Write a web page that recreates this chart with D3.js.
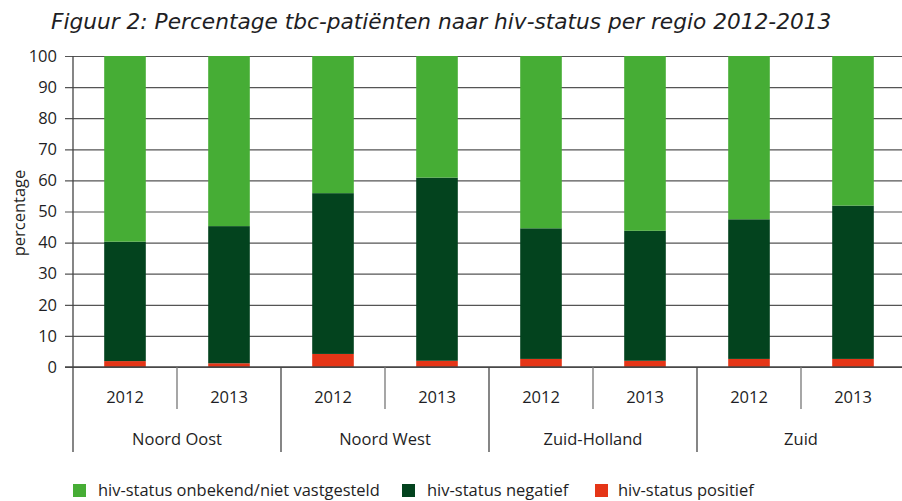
<!DOCTYPE html>
<html><head><meta charset="utf-8">
<script src="https://cdn.jsdelivr.net/npm/d3@7"></script>
<style>body{margin:0;background:#fff}svg{display:block}</style>
</head><body>
<svg id="c" width="902" height="501"></svg>
<script>
const regions = ["Noord Oost","Noord West","Zuid-Holland","Zuid"];
const years = ["2012","2013"];
const positief = [1.9, 1.2, 4.2, 2.0, 2.6, 2.0, 2.6, 2.6];
const negatief = [38.4, 44.1, 51.7, 58.9, 42.0, 41.8, 44.9, 49.3];
const onbekend = [59.7, 54.7, 44.1, 39.1, 55.4, 56.2, 52.5, 48.1];
const yTicks = [0,10,20,30,40,50,60,70,80,90,100];
const seriesNames = ["hiv-status onbekend/niet vastgesteld","hiv-status negatief","hiv-status positief"];
const colors = {pos:"#e53517", neg:"#03431e", onb:"#46ad35"};
const title = "Figuur 2: Percentage tbc-patiënten naar hiv-status per regio 2012-2013";

const rows = [];
regions.forEach((r,i)=>years.forEach((y,j)=>{
  const k=i*2+j;
  rows.push({key:r+"|"+y, region:r, year:y, pos:positief[k], neg:negatief[k], onb:onbekend[k]});
}));

const svg = d3.select("#c");
const font = "'Open Sans', sans-serif";
const textColor = "#1e1e24";

const x = d3.scaleBand().domain(rows.map(d=>d.key)).range([73,905]).paddingInner(0.6).paddingOuter(0.3);
const y = d3.scaleLinear().domain([0,100]).range([367,56]);
const step = x.step(), gap = (step - x.bandwidth())/2;

// gridlines + y tick labels
const yAxis = d3.axisLeft(y).tickValues(yTicks).tickSize(837).tickPadding(8);
const gy = svg.append("g").attr("transform","translate(902,0)").call(yAxis);
gy.select(".domain").remove();
gy.selectAll(".tick line").attr("stroke","#555").attr("stroke-width",1.2);
gy.selectAll(".tick text").attr("font-family",font).attr("font-size",16.5).attr("fill",textColor);

// stacked bars
const stack = d3.stack().keys(["pos","neg","onb"])(rows);
svg.append("g").selectAll("g").data(stack).join("g")
  .attr("fill",d=>colors[d.key])
  .selectAll("rect").data(d=>d).join("rect")
  .attr("x",d=>x(d.data.key)).attr("width",x.bandwidth())
  .attr("y",d=>y(d[1])).attr("height",d=>y(d[0])-y(d[1]));

// axes lines
const axisG = svg.append("g").attr("stroke","#444").attr("stroke-width",1.3);
axisG.append("line").attr("x1",65).attr("x2",902).attr("y1",y(0)).attr("y2",y(0));
regions.forEach((r,i)=>{
  const bx = x(r+"|2012") - gap;
  axisG.append("line").attr("x1",bx).attr("x2",bx).attr("y1",i===0?y(100):y(0)).attr("y2",452);
});
regions.forEach(r=>{
  const bx = x(r+"|2013") - gap;
  axisG.append("line").attr("x1",bx).attr("x2",bx).attr("y1",y(0)).attr("y2",409).attr("stroke","#777");
});

// year labels
svg.append("g").selectAll("text").data(rows).join("text")
  .attr("x",d=>x(d.key)+x.bandwidth()/2).attr("y",403)
  .attr("text-anchor","middle").attr("font-family",font).attr("font-size",16.5).attr("fill",textColor)
  .text(d=>d.year);
// region labels
svg.append("g").selectAll("text").data(regions).join("text")
  .attr("x",r=>x(r+"|2012")-gap+step).attr("y",445)
  .attr("text-anchor","middle").attr("font-family",font).attr("font-size",16.5).attr("fill",textColor)
  .text(r=>r);

// y label
svg.append("text").attr("transform","translate(25,213) rotate(-90)")
  .attr("text-anchor","middle").attr("font-family",font).attr("font-size",16.5).attr("fill",textColor)
  .text("percentage");

// title
const t = svg.append("text").attr("x",51).attr("y",29)
  .attr("font-family","'DejaVu Sans', Verdana, sans-serif").attr("font-style","italic")
  .attr("font-size",20).attr("fill",textColor).text(title);
const tw = t.node().getComputedTextLength();
t.attr("font-size", 20*781/tw);

// legend
const legend = [
  {name:seriesNames[0], color:colors.onb, sx:73, tx:98, tw:282},
  {name:seriesNames[1], color:colors.neg, sx:402, tx:427, tw:143},
  {name:seriesNames[2], color:colors.pos, sx:595, tx:618, tw:138}
];
const lg = svg.append("g");
legend.forEach(l=>{
  lg.append("rect").attr("x",l.sx).attr("y",484).attr("width",13).attr("height",13).attr("fill",l.color);
  const tt = lg.append("text").attr("x",l.tx).attr("y",496).attr("font-family",font)
    .attr("font-size",16).attr("fill",textColor).text(l.name);
  const w = tt.node().getComputedTextLength();
  tt.attr("font-size", Math.min(16.5, 16*l.tw/w));
});
</script>
</body></html>
